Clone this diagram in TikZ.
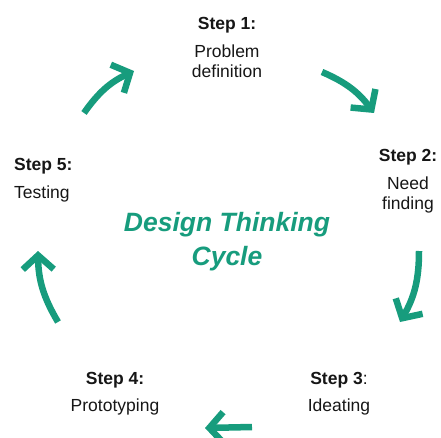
\documentclass[tikz,border=0pt]{standalone}
\usepackage{fontspec}
\setmainfont{Liberation Sans}
\usepackage{tikz}
\usetikzlibrary{arrows.meta,positioning}
\definecolor{cyclegreen}{RGB}{23,156,125}
\definecolor{steptext}{RGB}{22,22,22}

\tikzset{
  steplabel/.style={align=center,inner sep=0pt,anchor=base,text=steptext,
    font=\fontsize{17.5}{20}\selectfont},
  cyclearrow/.style={draw=cyclegreen,line width=6.5pt,
    -{Straight Barb[length=14pt,width=31pt,line width=6.5pt]}}
}

\begin{document}
\begin{tikzpicture}[x=1pt,y=1pt]
\useasboundingbox (0,0) rectangle (441,437);

% the five steps (base = last line)
\node[steplabel] (step1) at (227,359) {\textbf{Step 1:}\\[8pt]Problem\\definition};
\node[steplabel] (step2) at (408,228) {\textbf{Step 2:}\\[8pt]Need\\finding};
\node[steplabel] (step3) at (339,26) {\textbf{Step 3}:\\[7pt]Ideating};
\node[steplabel] (step4) at (115,26) {\textbf{Step 4:}\\[7pt]Prototyping};
\node[steplabel,align=left,anchor=base west] (step5) at (14,239) {\textbf{Step 5:}\\[8pt]Testing};

\node[inner sep=0pt,anchor=base,align=center,text=cyclegreen,
      font=\fontsize{26.5}{34}\selectfont\bfseries\itshape] (title) at (227,172)
      {Design Thinking\\Cycle};

% arrows between the steps
\coordinate (a1s) at (84,324);  \coordinate (a1e) at (134,366);
\coordinate (a2s) at (322,365); \coordinate (a2e) at (374,324);
\coordinate (a3s) at (419,186); \coordinate (a3e) at (400,115);
\coordinate (a4s) at (252,10);  \coordinate (a4e) at (205,9);
\coordinate (a5s) at (58,115);  \coordinate (a5e) at (38,186);

\draw[cyclearrow] (a1s) to[bend left=15] (a1e);
\draw[cyclearrow] (a2s) to[bend left=15] (a2e);
\draw[cyclearrow] (a3s) to[bend left=15] (a3e);
\draw[cyclearrow] (a4s) -- (a4e);
\draw[cyclearrow] (a5s) to[bend left=15] (a5e);
\end{tikzpicture}
\end{document}
